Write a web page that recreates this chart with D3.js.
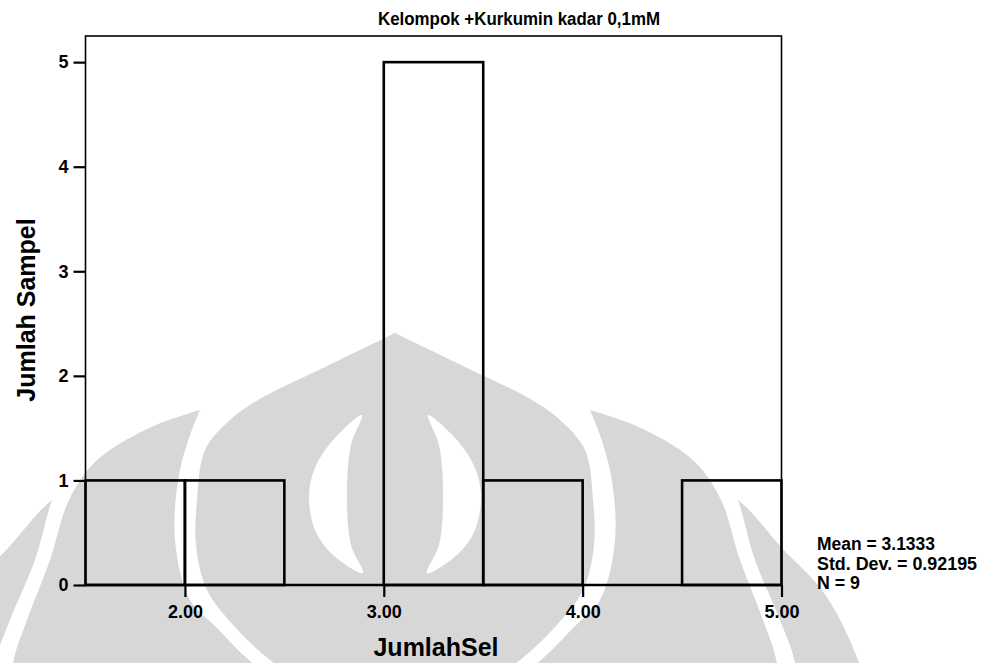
<!DOCTYPE html>
<html>
<head>
<meta charset="utf-8">
<script src="https://cdn.jsdelivr.net/npm/d3@7"></script>
<style>
  html, body { margin: 0; padding: 0; background: #fff; }
  svg { display: block; }
  text { font-family: Arial, "Liberation Sans", sans-serif; fill: #000; }
</style>
</head>
<body>
<div id="chart"></div>
<script>
// histogram data (JumlahSel, bins of 0.5)
var binStarts = [1.5, 2.0, 2.5, 3.0, 3.5, 4.0, 4.5];
var binCounts = [1, 1, 0, 5, 1, 0, 1];
var binWidth = 0.5;
var xTicks = [2, 3, 4, 5];
var yTicks = [0, 1, 2, 3, 4, 5];
var statLines = ['Mean = 3.1333', 'Std. Dev. = 0.92195', 'N = 9'];
var statWidths = [118, 160, 43];
var chartTitle = 'Kelompok +Kurkumin kadar 0,1mM';
var xTitle = 'JumlahSel';
var yTitle = 'Jumlah Sampel';

var width = 982, height = 663;
var plotL = 85.5, plotR = 781.5, plotT = 36, plotB = 585;

var svg = d3.select('#chart').append('svg')
  .attr('width', width)
  .attr('height', height);

svg.append('rect').attr('width', width).attr('height', height).attr('fill', '#fff');

// faint watermark in the background (logo), drawn as nested onion shapes
var wm = svg.append('g');
var cx = 395;
var grey = '#d7d7d7';

function onion(pts) {
  var r = pts.map(function(p){ return [cx + p[0], p[1]]; });
  var l = pts.filter(function(p){ return p[0] !== 0; }).reverse()
    .map(function(p){ return [cx - p[0], p[1]]; });
  return d3.line().curve(d3.curveCatmullRomClosed)(r.concat(l));
}

var shapes = [
  { fill: grey, pts: [[0,430],[200,452],[300,478],[343,500],[386,547],[429,593],[463,660],[490,760],[0,790]] },
  { fill: '#fff', pts: [[0,350],[250,400],[330,470],[343,500],[360,560],[385,620],[400,663],[410,760],[0,785]] },
  { fill: grey, pts: [[0,380],[120,390],[195,410],[250,430],[300,462],[326,500],[345,560],[368,620],[382,663],[392,760],[0,780]] },
  { fill: '#fff', pts: [[0,300],[100,330],[185,392],[195,410],[215,470],[220,540],[205,600],[179,627],[146,660],[90,700],[0,720]] },
  { fill: grey, pts: [[0,333],[2,334],[35,350],[70,367],[137,400],[165,420],[190,450],[198,500],[199,545],[188,590],[160,627],[125,660],[80,690],[0,705]] }
];
shapes.forEach(function(s){
  wm.append('path').attr('d', onion(s.pts)).attr('fill', s.fill);
});

// central white crescents
var cres = [[33,415],[62,440],[80,468],[86,495],[80,530],[62,555],[32,573],[44,545],[48,495],[44,445]];
[1, -1].forEach(function(side){
  wm.append('path')
    .attr('d', d3.line().curve(d3.curveCatmullRomClosed)(cres.map(function(p){ return [cx + side * p[0], p[1]]; })))
    .attr('fill', '#fff');
});

var x = d3.scaleLinear().domain([1.5, 5]).range([plotL, plotR]);
var y = d3.scaleLinear().domain([0, 5.25]).range([plotB, plotT]);

// frame
svg.append('rect')
  .attr('x', plotL).attr('y', plotT)
  .attr('width', plotR - plotL).attr('height', plotB - plotT)
  .attr('fill', 'none').attr('stroke', '#000').attr('stroke-width', 1.6);

// bars
svg.append('g').selectAll('rect')
  .data(binStarts.map(function(s, i){ return { x0: s, x1: s + binWidth, n: binCounts[i] }; }))
  .enter().append('rect')
  .attr('x', function(d){ return x(d.x0); })
  .attr('y', function(d){ return y(d.n); })
  .attr('width', function(d){ return x(d.x1) - x(d.x0); })
  .attr('height', function(d){ return y(0) - y(d.n); })
  .attr('fill', 'none')
  .attr('stroke', '#000')
  .attr('stroke-width', 2.6);

// axes
var xAxis = svg.append('g')
  .attr('transform', 'translate(0,' + plotB + ')')
  .call(d3.axisBottom(x).tickValues(xTicks).tickSize(12).tickPadding(8).tickFormat(d3.format('.2f')));
var yAxis = svg.append('g')
  .attr('transform', 'translate(' + plotL + ',0)')
  .call(d3.axisLeft(y).tickValues(yTicks).tickSize(12).tickPadding(5).tickFormat(d3.format('d')));

[xAxis, yAxis].forEach(function(a){
  a.select('.domain').remove();
  a.selectAll('line').attr('stroke', '#000').attr('stroke-width', 2.2);
  a.selectAll('text')
    .attr('font-family', 'Arial, "Liberation Sans", sans-serif')
    .attr('font-size', 18)
    .attr('font-weight', 'bold')
    .attr('fill', '#000');
});
svg.append('line')
  .attr('x1', plotL).attr('x2', plotR).attr('y1', plotB).attr('y2', plotB)
  .attr('stroke', '#000').attr('stroke-width', 2.6);

// titles
svg.append('text')
  .attr('x', 378).attr('y', 25)
  .attr('font-size', 18)
  .attr('font-weight', 'bold')
  .attr('textLength', 282)
  .attr('lengthAdjust', 'spacingAndGlyphs')
  .text(chartTitle);

svg.append('text')
  .attr('x', 436).attr('y', 656)
  .attr('text-anchor', 'middle')
  .attr('font-size', 25)
  .attr('font-weight', 'bold')
  .text(xTitle);

svg.append('text')
  .attr('transform', 'translate(35,310) rotate(-90)')
  .attr('text-anchor', 'middle')
  .attr('font-size', 25)
  .attr('font-weight', 'bold')
  .text(yTitle);

// summary statistics
svg.append('g').selectAll('text')
  .data(statLines)
  .enter().append('text')
  .attr('x', 817)
  .attr('y', function(d, i){ return 550 + i * 19.5; })
  .attr('font-size', 18)
  .attr('font-weight', 'bold')
  .attr('textLength', function(d, i){ return statWidths[i]; })
  .attr('lengthAdjust', 'spacingAndGlyphs')
  .text(function(d){ return d; });
</script>
</body>
</html>
